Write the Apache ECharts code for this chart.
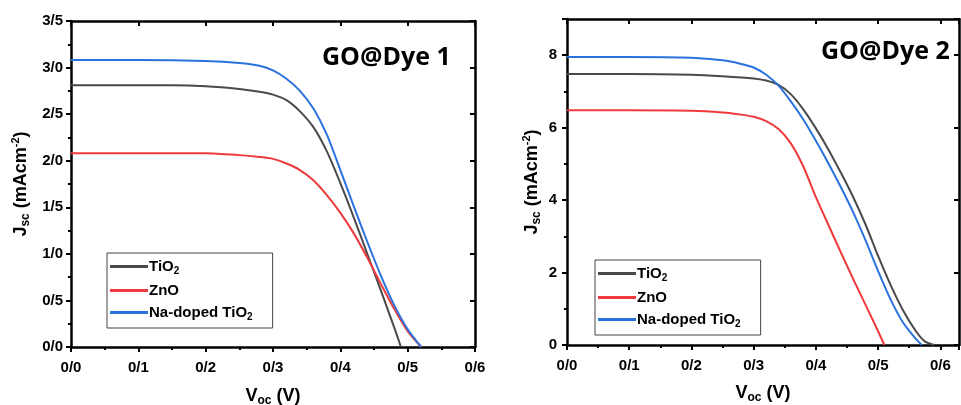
<!DOCTYPE html>
<html>
<head>
<meta charset="utf-8">
<script src="https://cdn.jsdelivr.net/npm/echarts@6/dist/echarts.min.js"></script>
<style>
  html, body { margin: 0; padding: 0; background: #fff; }
  #chart { width: 961px; height: 405px; }
</style>
</head>
<body>
<div id="chart"></div>
<script>
// J–V curves, panel 1 (GO@Dye 1): [voltage V, current density mA/cm2]
const dye1TiO2 = [[0,2.81],[0.05,2.81],[0.1,2.81],[0.15,2.81],[0.2,2.80],[0.25,2.77],[0.28,2.74],[0.3,2.71],[0.32,2.65],[0.34,2.53],[0.36,2.36],[0.38,2.10],[0.40,1.76],[0.42,1.39],[0.44,1.00],[0.46,0.61],[0.48,0.21],[0.49,0.0]];
const dye1ZnO = [[0,2.08],[0.1,2.08],[0.2,2.08],[0.25,2.06],[0.28,2.04],[0.3,2.02],[0.32,1.97],[0.34,1.90],[0.36,1.79],[0.38,1.63],[0.40,1.44],[0.42,1.22],[0.44,0.96],[0.46,0.68],[0.48,0.41],[0.50,0.17],[0.52,0.0]];
const dye1NaTiO2 = [[0,3.08],[0.1,3.08],[0.2,3.07],[0.25,3.05],[0.28,3.02],[0.3,2.97],[0.32,2.88],[0.34,2.75],[0.36,2.56],[0.38,2.28],[0.40,1.90],[0.42,1.51],[0.44,1.13],[0.46,0.77],[0.48,0.45],[0.50,0.19],[0.52,0.0]];

// J–V curves, panel 2 (GO@Dye 2)
const dye2TiO2 = [[0,7.48],[0.1,7.48],[0.2,7.46],[0.25,7.42],[0.3,7.36],[0.32,7.30],[0.34,7.18],[0.36,6.92],[0.38,6.50],[0.40,5.98],[0.42,5.40],[0.44,4.76],[0.46,4.08],[0.48,3.32],[0.50,2.46],[0.52,1.66],[0.54,0.96],[0.56,0.40],[0.575,0.10],[0.59,0.0]];
const dye2ZnO = [[0,6.48],[0.1,6.48],[0.2,6.47],[0.25,6.42],[0.28,6.36],[0.3,6.30],[0.32,6.18],[0.34,5.96],[0.36,5.56],[0.38,4.92],[0.40,4.08],[0.42,3.32],[0.44,2.56],[0.46,1.82],[0.48,1.10],[0.50,0.38],[0.51,0.0]];
const dye2NaTiO2 = [[0,7.95],[0.1,7.95],[0.2,7.93],[0.25,7.86],[0.28,7.76],[0.3,7.66],[0.32,7.46],[0.34,7.16],[0.36,6.72],[0.38,6.22],[0.40,5.64],[0.42,5.02],[0.44,4.36],[0.46,3.66],[0.48,2.88],[0.50,2.04],[0.52,1.26],[0.54,0.62],[0.56,0.18],[0.57,0.0]];

const seriesNames = ['TiO2', 'ZnO', 'Na-doped TiO2'];
const panelTitles = ['GO@Dye 1', 'GO@Dye 2'];
const colors = { 'TiO2': '#4a4a4a', 'ZnO': '#ee3a3c', 'Na-doped TiO2': '#2a72de' };

const FONT = '"Liberation Sans", Arial, sans-serif';

// decimal labels written with a slash separator
const slashFmt = (digits) => (v) => {
  const r = Math.round(v * 10) / 10;
  if (Math.abs(r - v) > 1e-6) return '';
  return v.toFixed(digits).replace('.', '/');
};
const intFmt = (step) => (v) => (Math.abs(v % step) < 1e-6 ? String(v) : '');

const legendRich = {
  n: { fontFamily: FONT, fontWeight: 'bold', fontSize: 15, color: '#000' },
  s: { fontFamily: FONT, fontWeight: 'bold', fontSize: 10, color: '#000', verticalAlign: 'bottom', padding: [9, 0, 0, 0] }
};
const legendFmt = (name) => {
  if (name === 'TiO2') return '{n|TiO}{s|2}';
  if (name === 'Na-doped TiO2') return '{n|Na-doped TiO}{s|2}';
  return '{n|' + name + '}';
};

const nameRich = {
  n: { fontFamily: FONT, fontWeight: 'bold', fontSize: 18, color: '#000' },
  s: { fontFamily: FONT, fontWeight: 'bold', fontSize: 12, color: '#000', verticalAlign: 'bottom', padding: [10, 0, 0, 0] },
  p: { fontFamily: FONT, fontWeight: 'bold', fontSize: 11, color: '#000', verticalAlign: 'top', padding: [0, 0, 9, 0] }
};
const nameStyle = { fontFamily: FONT, fontWeight: 'bold', fontSize: 18, color: '#000', rich: nameRich };

const axisLine = { show: true, onZero: false, lineStyle: { color: '#000', width: 2.5 } };
const labelStyle = { fontFamily: FONT, fontWeight: 'bold', fontSize: 15, color: '#000' };

function xAxes(gridIndex, max, nameGap) {
  const base = {
    type: 'value', gridIndex, min: 0, max, interval: 0.1,
    axisLine, splitLine: { show: false },
    minorTick: { show: true, splitNumber: 2, length: 3, lineStyle: { color: '#000', width: 2 } },
    minorSplitLine: { show: false }
  };
  return [
    Object.assign({}, base, {
      position: 'bottom',
      axisTick: { show: true, inside: false, length: 5, lineStyle: { color: '#000', width: 2 } },
      axisLabel: Object.assign({ margin: 13, formatter: slashFmt(1) }, labelStyle),
      name: '{n|V}{s|oc}{n| (V)}', nameLocation: 'middle', nameGap,
      nameTextStyle: nameStyle
    }),
    Object.assign({}, base, {
      position: 'top',
      axisTick: { show: true, inside: true, length: 5, lineStyle: { color: '#000', width: 2 } },
      minorTick: { show: false },
      axisLabel: { show: false }
    })
  ];
}

function yAxes(gridIndex, max, interval, fmt, labelMargin, nameGap) {
  const base = {
    type: 'value', gridIndex, min: 0, max, interval,
    axisLine, splitLine: { show: false },
    minorTick: { show: true, splitNumber: 2, length: 3, lineStyle: { color: '#000', width: 2 } },
    minorSplitLine: { show: false }
  };
  return [
    Object.assign({}, base, {
      position: 'left',
      axisTick: { show: true, inside: false, length: 5, lineStyle: { color: '#000', width: 2 } },
      axisLabel: Object.assign({ margin: labelMargin, formatter: fmt }, labelStyle),
      name: '{n|J}{s|sc}{n| (mAcm}{p|-2}{n|)}', nameLocation: 'middle', nameRotate: 90, nameGap,
      nameTextStyle: nameStyle
    }),
    Object.assign({}, base, {
      position: 'right',
      axisTick: { show: true, inside: true, length: 5, lineStyle: { color: '#000', width: 2 } },
      minorTick: { show: false },
      axisLabel: { show: false }
    })
  ];
}

function lineSeries(name, data, xi, yi) {
  return {
    type: 'line', name, data, xAxisIndex: xi, yAxisIndex: yi,
    showSymbol: false, smooth: 0.25,
    lineStyle: { color: colors[name], width: 2 },
    itemStyle: { color: colors[name] },
    emphasis: { disabled: true }, animation: false
  };
}

const titleStyle = { fontFamily: '"Open Sans", sans-serif', fontWeight: 'bold', fontSize: 25, color: '#000' };

const chart = echarts.init(document.getElementById('chart'), null, { renderer: 'canvas' });
chart.setOption({
  backgroundColor: '#fff',
  animation: false,
  title: [
    { text: panelTitles[0], left: 322, top: 45, padding: 0, textStyle: titleStyle },
    { text: panelTitles[1], left: 821, top: 39, padding: 0, textStyle: titleStyle }
  ],
  grid: [
    { left: 71, top: 21, width: 404, height: 326, containLabel: false, outerBoundsMode: 'none' },
    { left: 567, top: 19, width: 392, height: 326, containLabel: false, outerBoundsMode: 'none' }
  ],
  legend: [
    { data: seriesNames, orient: 'vertical', left: 107, top: 253, width: 165,
      itemWidth: 38, itemHeight: 3, icon: 'rect', itemGap: 7,
      padding: [6, 20, 6, 3], borderColor: '#444', borderWidth: 1,
      formatter: legendFmt, textStyle: { rich: legendRich, padding: [0, 0, 0, -4] }, selectedMode: false },
    { data: seriesNames, orient: 'vertical', left: 595, top: 260, width: 165,
      itemWidth: 38, itemHeight: 3, icon: 'rect', itemGap: 7,
      padding: [6, 20, 6, 3], borderColor: '#444', borderWidth: 1,
      formatter: legendFmt, textStyle: { rich: legendRich, padding: [0, 0, 0, -4] }, selectedMode: false }
  ],
  xAxis: [].concat(xAxes(0, 0.6, 38), xAxes(1, 0.63, 37)),
  yAxis: [].concat(yAxes(0, 3.5, 0.5, slashFmt(1), 8, 39), yAxes(1, 9, 2, intFmt(2), 10, 24)),
  series: [
    lineSeries('TiO2', dye1TiO2, 0, 0),
    lineSeries('ZnO', dye1ZnO, 0, 0),
    lineSeries('Na-doped TiO2', dye1NaTiO2, 0, 0),
    lineSeries('TiO2', dye2TiO2, 2, 2),
    lineSeries('ZnO', dye2ZnO, 2, 2),
    lineSeries('Na-doped TiO2', dye2NaTiO2, 2, 2)
  ]
});
</script>
</body>
</html>
